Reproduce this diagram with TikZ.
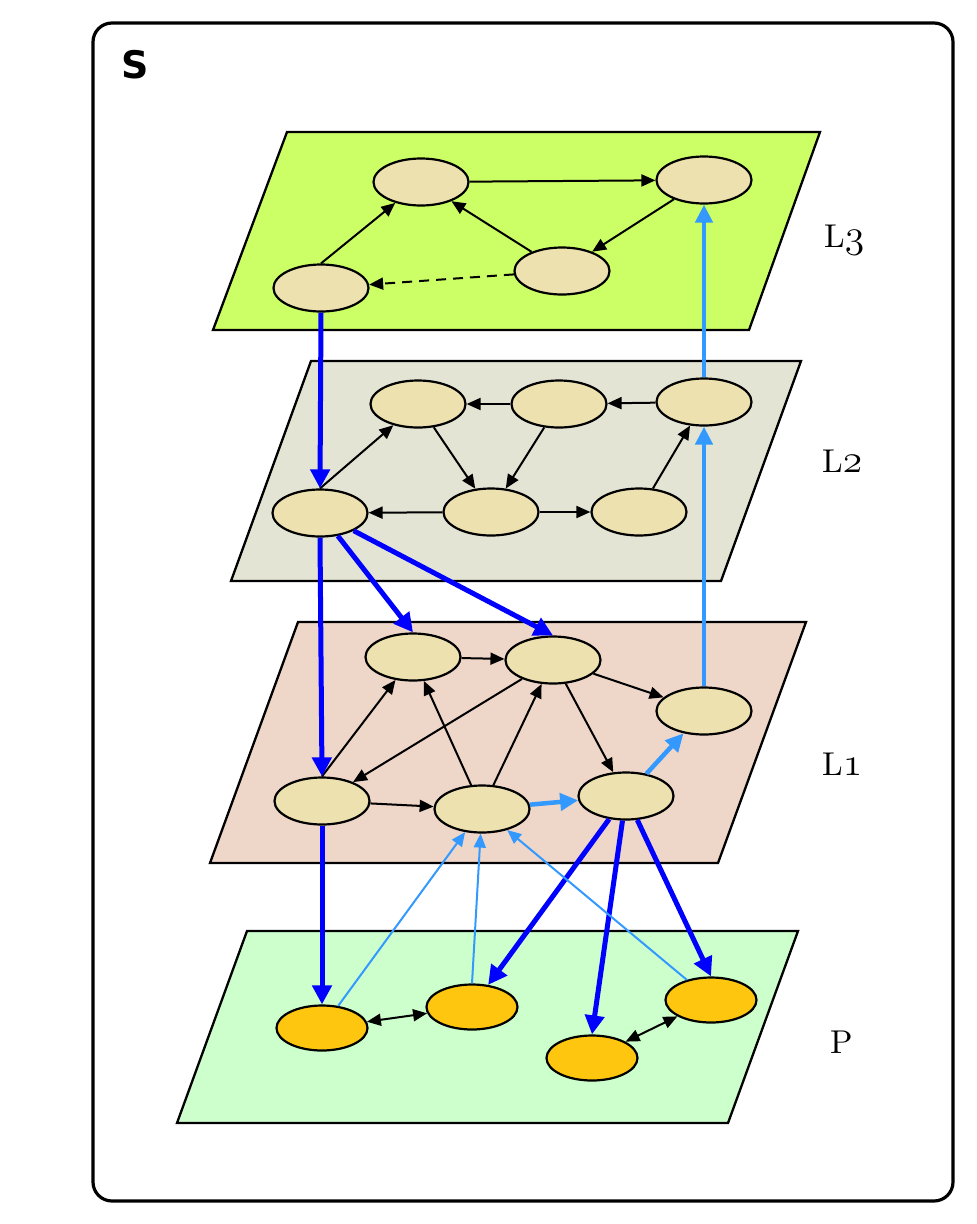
\documentclass[tikz,border=0pt]{standalone}
\usepackage{fontspec}
\newfontfamily\dejavu{DejaVu Sans}
\usetikzlibrary{arrows.meta,shapes.geometric}
\definecolor{planeA}{HTML}{CCFF66}
\definecolor{planeB}{HTML}{E4E4D4}
\definecolor{planeC}{HTML}{EED6C8}
\definecolor{planeD}{HTML}{CCFFCC}
\definecolor{nodefill}{HTML}{EEE1B0}
\definecolor{pnode}{HTML}{FFC60F}
\definecolor{dblue}{HTML}{0000FF}
\definecolor{lblue}{HTML}{3399FF}
\tikzset{
  plane/.style={draw=black, line width=2.3pt, line join=miter},
  ell/.style={ellipse, draw=black, line width=2.2pt, fill=nodefill, minimum width=95pt, minimum height=47pt, inner sep=0pt},
  pell/.style={ell, fill=pnode, minimum width=91pt, minimum height=45pt},
  blk/.style={draw=black, line width=2pt, -{Triangle[length=14pt,width=12pt]}},
  blkboth/.style={draw=black, line width=2pt, {Triangle[length=14pt,width=12pt]}-{Triangle[length=14pt,width=12pt]}},
  dblk/.style={blk, dash pattern=on 10pt off 7pt},
  bigblue/.style={draw=dblue, line width=5pt, -{Triangle[length=19pt,width=19pt]}},
  lbthick/.style={draw=lblue, line width=4.5pt, -{Triangle[length=18pt,width=17pt]}},
  lbthin/.style={draw=lblue, line width=2pt, -{Triangle[length=14pt,width=12pt]}},
  lab/.style={anchor=base west, inner sep=0pt},
}
\newcommand{\labtext}[2]{\scalebox{3.3}{#1\raisebox{0pt}{\usefont{OML}{lmm}{m}{it}#2}}}
\begin{document}
\begin{tikzpicture}[x=1pt,y=-1pt]
\useasboundingbox (0,0) rectangle (977,1224);
% outer box
\draw[line width=3.2pt, rounded corners=19pt] (93,23) rectangle (953,1201);
\node[anchor=base west, inner sep=0pt, font=\dejavu\bfseries\fontsize{38}{44}\selectfont] (S) at (121,78) {S};

% planes
\filldraw[plane, fill=planeA] (287,132) -- (820,132) -- (749,330) -- (213,330) -- cycle;
\filldraw[plane, fill=planeB] (311,361) -- (801,361) -- (721,581) -- (231,581) -- cycle;
\filldraw[plane, fill=planeC] (298,622) -- (806,622) -- (718,863) -- (210,863) -- cycle;
\filldraw[plane, fill=planeD] (247,931) -- (798,931) -- (728,1123) -- (177,1123) -- cycle;

% labels
\node[lab] (l3) at (824,247) {\labtext{L}{\fontsize{12.5}{14}\selectfont 3}};
\node[lab] (l2) at (822,472) {\labtext{L}{\fontsize{12.5}{14}\selectfont 2}};
\node[lab] (l1) at (822,775) {\labtext{L}{\fontsize{12.5}{14}\selectfont 1}};
\node[lab] (lp) at (830,1053) {\scalebox{3.3}{P}};

% L3 nodes
\node[ell] (A) at (421,182) {};
\node[ell] (B) at (704,180) {};
\node[ell] (C) at (321,288) {};
\node[ell] (D) at (562,271) {};
% L2 nodes
\node[ell] (E) at (418,404) {};
\node[ell] (F) at (559,404) {};
\node[ell] (G) at (704,402) {};
\node[ell] (H) at (320,513) {};
\node[ell] (I) at (491,512) {};
\node[ell] (J) at (639,512) {};
% L1 nodes
\node[ell] (K) at (413,657) {};
\node[ell] (M) at (553,660) {};
\node[ell] (N) at (704,711) {};
\node[ell] (O) at (322,801) {};
\node[ell] (Q) at (482,809) {};
\node[ell] (R) at (626,796) {};
% P nodes
\node[pell] (P1) at (322,1028) {};
\node[pell] (P2) at (472,1007) {};
\node[pell] (P3) at (592,1058) {};
\node[pell] (P4) at (711,1000) {};

% L3 edges
\draw[blk] (A) -- (B);
\draw[blk] (C.north) -- (A);
\draw[blk] (D) -- (A);
\draw[blk] (B) -- (D);
\draw[dblk] (D) -- (C);
% L2 edges
\draw[blk] (F) -- (E);
\draw[blk] (G) -- (F);
\draw[blk] (H.north) -- (E);
\draw[blk] (E) -- (I);
\draw[blk] (F) -- (I);
\draw[blk] (I) -- (H);
\draw[blk] (I) -- (J);
\draw[blk] (J) -- (G);
% L1 edges
\draw[blk] (K) -- (M);
\draw[blk] (O.north) -- (K);
\draw[blk] (M) -- (O);
\draw[blk] (Q) -- (K);
\draw[blk] (Q) -- (M);
\draw[blk] (M) -- (R);
\draw[blk] (M) -- (N);
\draw[blk] (O) -- (Q);
% P edges
\draw[blkboth] (P1) -- (P2);
\draw[blkboth] (P3) -- (P4);

% dark blue
\draw[bigblue] (C.south) -- (H.north);
\draw[bigblue] (H.south) -- (O.north);
\draw[bigblue] (H) -- (K.north);
\draw[bigblue] (H) -- (M.north);
\draw[bigblue] (O.south) -- (P1.north);
\draw[bigblue] (R) -- (P2);
\draw[bigblue] (R) -- (P3.north);
\draw[bigblue] (R) -- (P4.north);

% light blue
\draw[lbthick] (Q) -- (R);
\draw[lbthick] (R) -- (N);
\draw[lbthick] (N.north) -- (G.south);
\draw[lbthick] (G.north) -- (B.south);
\draw[lbthin] (P1) -- (Q);
\draw[lbthin] (P2.north) -- (Q);
\draw[lbthin] (P4) -- (Q);
\end{tikzpicture}
\end{document}
